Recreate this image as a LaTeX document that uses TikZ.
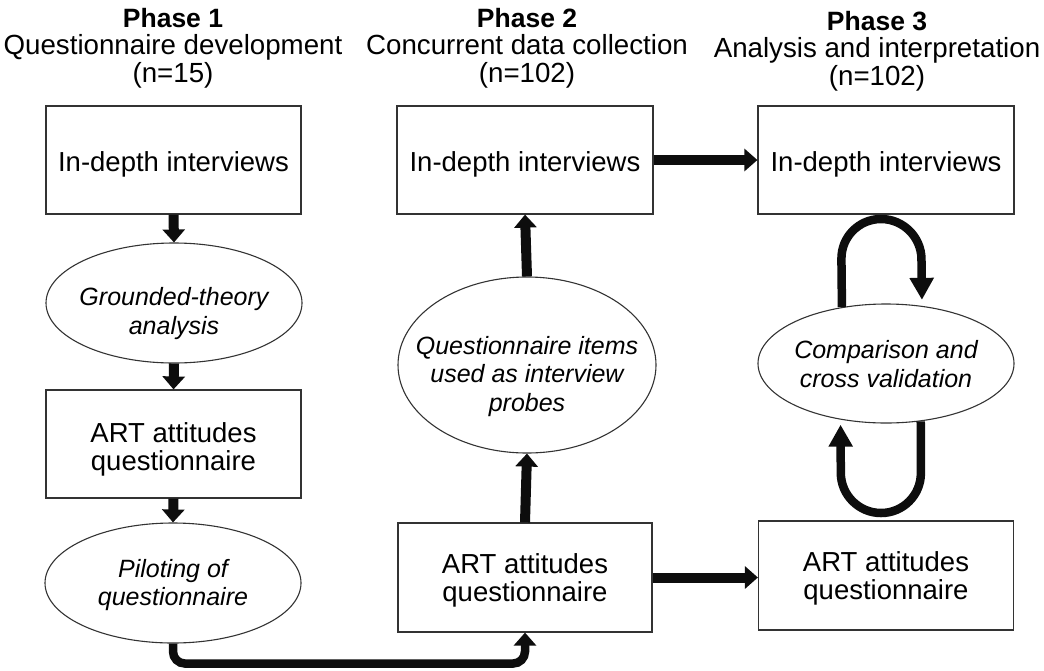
\documentclass[tikz,border=0pt]{standalone}
\usepackage{fontspec}
\setmainfont{Liberation Sans}
\usetikzlibrary{arrows.meta,shapes.geometric}
\begin{document}
\begin{tikzpicture}[x=1pt,y=-1pt,
  box/.style={draw=black!80, line width=1.2pt, minimum width=255pt, minimum height=108pt, inner sep=0pt},
  ell/.style={ellipse, draw=black!80, line width=1.1pt, inner sep=0pt},
  btext/.style={anchor=north, inner sep=0pt, align=center, font=\fontsize{27.5}{28.5}\selectfont},
  etext/.style={anchor=north, inner sep=0pt, align=center, font=\itshape\fontsize{25}{28.5}\selectfont},
  hdr/.style={align=center, font=\fontsize{27.7}{27.5}\selectfont, inner sep=0pt, anchor=north},
  flow/.style={line width=10pt, black!95, -{Triangle[width=22pt,length=13pt]}},
  loopar/.style={line width=8.5pt, black!95, rounded corners=40pt, -{Triangle[width=23pt,length=22pt]}},
  elbow/.style={line width=8.5pt, black!95, rounded corners=12pt, -{Triangle[width=22pt,length=13pt]}},
]
\useasboundingbox (0,0) rectangle (1044,670);

% headers
\node[hdr] (h1) at (173,8) {{\bfseries\fontsize{26.5}{27.5}\selectfont Phase 1}\\Questionnaire development\\(n=15)};
\node[hdr] (h2) at (527,8) {{\bfseries\fontsize{26.5}{27.5}\selectfont Phase 2}\\Concurrent data collection\\(n=102)};
\node[hdr] (h3) at (877,11) {{\bfseries\fontsize{26.5}{27.5}\selectfont Phase 3}\\Analysis and interpretation\\(n=102)};

% phase 1 shapes
\node[box] (b11) at (173.5,160) {};
\node[ell, minimum width=256pt, minimum height=120pt] (e12) at (174,303) {};
\node[box] (b13) at (173.5,444) {};
\node[ell, minimum width=256pt, minimum height=120pt] (e14) at (173,583) {};
% phase 2 shapes
\node[box, minimum width=256pt] (b21) at (525,160) {};
\node[ell, minimum width=258pt, minimum height=176pt] (e22) at (527,365) {};
\node[box, minimum width=254pt, minimum height=109pt] (b23) at (525,577.5) {};
% phase 3 shapes
\node[box, minimum width=256pt] (b31) at (886,160) {};
\node[ell, minimum width=256pt, minimum height=119pt] (e32) at (886,363.5) {};
\node[box, minimum width=255pt, minimum height=109pt] (b33) at (886,575.5) {};

% texts
\node[btext] (t11) at (173.5,151.8) {In-depth interviews};
\node[etext] (t12) at (174,287.5) {Grounded-theory\\analysis};
\node[btext] (t13) at (173.5,422) {ART attitudes\\questionnaire};
\node[etext] (t14) at (173,559) {Piloting of\\questionnaire};
\node[btext] (t21) at (525,151.8) {In-depth interviews};
\node[etext] (t22) at (527,336) {Questionnaire items\\used as interview\\probes};
\node[btext] (t23) at (525,553.3) {ART attitudes\\questionnaire};
\node[btext] (t31) at (886,151.8) {In-depth interviews};
\node[etext] (t32) at (886,340.3) {Comparison and\\cross validation};
\node[btext] (t33) at (886,551.3) {ART attitudes\\questionnaire};

% arrows
\draw[flow] (b11.south) -- (e12.north);
\draw[flow] (e12.south) -- (b13.north);
\draw[flow] (b13.south) -- (e14.north);
\draw[elbow] (e14.south) -- ++(0,20) -| (b23.south);
\draw[flow] (b23.north) -- (e22.south);
\draw[flow] (e22.north) -- (b21.south);
\draw[flow] (b21.east) -- (b31.west);
\draw[flow] (b23.east) -- (b23.east -| b33.west);

% loop
\draw[loopar, shorten >=6pt] (e32.128.9) -- (841,219) -- (921,219) -- (e32.58.5);
\draw[loopar, shorten >=5pt] (e32.301.5) -- (921,513) -- (841,513) -- (e32.231.1);
\end{tikzpicture}
\end{document}
